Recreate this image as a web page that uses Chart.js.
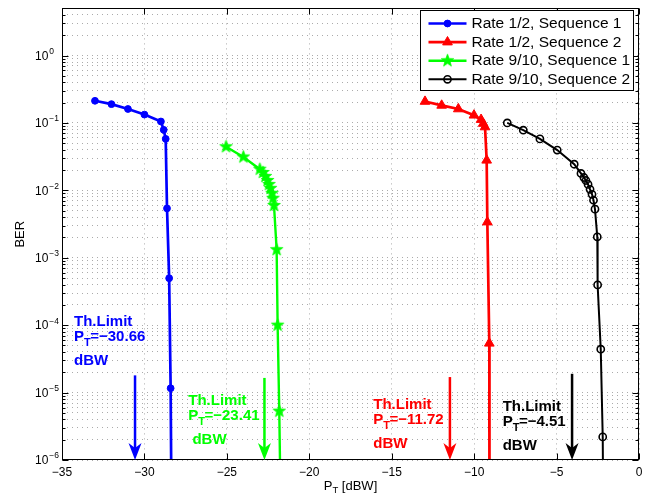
<!DOCTYPE html>
<html>
<head>
<meta charset="utf-8">
<script src="https://cdn.jsdelivr.net/npm/chart.js@4.4.1/dist/chart.umd.min.js"></script>
<style>
html,body{margin:0;padding:0;background:#fff;}
#wrap{width:659px;height:499px;position:relative;}
</style>
</head>
<body>
<div id="wrap"><canvas id="c" width="659" height="499"></canvas></div>
<script>
// ---------- data ----------
const seriesLabels = ['Rate 1/2, Sequence 1', 'Rate 1/2, Sequence 2', 'Rate 9/10, Sequence 1', 'Rate 9/10, Sequence 2'];
const seriesColors = ['#0000ff', '#ff0000', '#00ff00', '#000000'];

const r12s1X = [-33.0, -32.0, -31.0, -30.0, -29.0, -28.83, -28.71, -28.63, -28.5, -28.41, -28.35];
const r12s1Y = [0.213, 0.19, 0.161, 0.133, 0.105, 0.079, 0.058, 0.0054, 4.97e-4, 1.16e-5, 1e-7];

const r12s2X = [-12.98, -11.97, -10.96, -10.01, -9.58, -9.45, -9.34, -9.24, -9.2, -9.08, -9.07];
const r12s2Y = [0.208, 0.182, 0.161, 0.130, 0.112, 0.098, 0.087, 0.0279, 0.00338, 5.38e-5, 1e-7];

const r910s1X = [-25.05, -24.0, -23.0, -22.81, -22.66, -22.53, -22.44, -22.35, -22.26, -22.2, -22.14, -21.98, -21.92, -21.82, -21.72];
const r910s1Y = [0.0444, 0.0313, 0.0206, 0.0184, 0.0161, 0.0140, 0.01225, 0.0107, 0.00904, 0.00762, 0.00596, 0.00132, 1e-4, 5.3e-6, 1e-7];

const r910s2X = [-7.99, -7.02, -6.01, -4.96, -3.93, -3.52, -3.34, -3.22, -3.09, -2.97, -2.85, -2.76, -2.67, -2.53, -2.51, -2.32, -2.2, -2.16];
const r910s2Y = [0.1, 0.078, 0.058, 0.0396, 0.0244, 0.0178, 0.0155, 0.0140, 0.01225, 0.01035, 0.00873, 0.00713, 0.00526, 0.00204, 3.96e-4, 4.4e-5, 2.2e-6, 1e-7];

const xTicks = [-35, -30, -25, -20, -15, -10, -5, 0];
const yDecades = [-6, -5, -4, -3, -2, -1, 0];
const xRange = [-35, 0];
const yRange = [1e-6, 5];

// threshold-limit annotations (order: blue, green, red, black)
const limitColors = ['#0000ff', '#00ff00', '#ff0000', '#000000'];
const limitValues = ['\u221230.66', '\u221223.41', '\u221211.72', '\u22124.51'];
const limitArrowX = [-30.57, -22.72, -11.47, -4.06];
const limitArrowTop = [1.8e-5, 1.65e-5, 1.7e-5, 1.9e-5];
const limitTextX = [-34.27, -27.34, -16.12, -8.27];
const limitTextY = [1.12e-4, 7.6e-6, 6.5e-6, 6.2e-6];
const limitUnit = ['dBW', ' dBW', 'dBW', 'dBW'];

const xTitleMain = 'P', xTitleSub = 'T', xTitleRest = ' [dBW]';
const yTitle = 'BER';

// ---------- helpers ----------
const FONT = '"Liberation Sans", Arial, Helvetica, sans-serif';
function pts(xs, ys) { return xs.map((v, i) => ({x: v, y: ys[i]})); }
function makeStar(color, R, r) {
  const s = Math.ceil(2 * R + 3);
  const c = document.createElement('canvas');
  c.width = s; c.height = s;
  const g = c.getContext('2d');
  g.translate(s / 2, s / 2);
  g.beginPath();
  for (let i = 0; i < 10; i++) {
    const rad = i % 2 ? r : R;
    const a = -Math.PI / 2 + i * Math.PI / 5;
    g.lineTo(rad * Math.cos(a), rad * Math.sin(a));
  }
  g.closePath();
  g.fillStyle = color; g.fill();
  g.strokeStyle = color; g.lineWidth = 0.8; g.stroke();
  return c;
}
const starImg = makeStar(seriesColors[2], 6.6, 2.7);
function sup(n) {
  return (n < 0 ? '\u2212' : '') + Math.abs(n);
}

const datasets = [
  {label: seriesLabels[0], data: pts(r12s1X, r12s1Y), borderColor: seriesColors[0], backgroundColor: seriesColors[0],
   borderWidth: 2.7, pointStyle: 'circle', pointRadius: 3.4, pointBorderWidth: 1},
  {label: seriesLabels[1], data: pts(r12s2X, r12s2Y), borderColor: seriesColors[1], backgroundColor: seriesColors[1],
   borderWidth: 2.7, pointStyle: 'triangle', pointRadius: 5.6, pointBorderWidth: 1},
  {label: seriesLabels[2], data: pts(r910s1X, r910s1Y), borderColor: seriesColors[2], backgroundColor: seriesColors[2],
   borderWidth: 2.4, pointStyle: starImg, pointRadius: 6},
  {label: seriesLabels[3], data: pts(r910s2X, r910s2Y), borderColor: seriesColors[3], backgroundColor: 'rgba(0,0,0,0)',
   borderWidth: 2, pointStyle: 'circle', pointRadius: 3.6, pointBorderWidth: 1.6}
];
datasets.forEach(d => { d.showLine = true; d.tension = 0; d.fill = false; d.pointBorderColor = d.borderColor; d.pointBackgroundColor = d.backgroundColor; });

// ---------- decoration plugin ----------
const decor = {
  id: 'decor',
  afterDatasetsDraw(chart) {
    const ctx = chart.ctx, a = chart.chartArea, xs = chart.scales.x, ys = chart.scales.y;
    const L = Math.round(a.left) + 0.5, T = Math.round(a.top) + 0.5, R = Math.round(a.right) - 0.5, B = Math.round(a.bottom) - 0.5;
    ctx.save();
    // box
    ctx.strokeStyle = '#000'; ctx.lineWidth = 1; ctx.setLineDash([]);
    ctx.strokeRect(L, T, R - L, B - T);
    // inner tick marks
    ctx.beginPath();
    xTicks.forEach(v => {
      const px = Math.round(xs.getPixelForValue(v)) + 0.5;
      ctx.moveTo(px, B); ctx.lineTo(px, B - 6);
      ctx.moveTo(px, T); ctx.lineTo(px, T + 6);
    });
    yDecades.forEach(d => {
      for (let s = 1; s <= 9; s++) {
        const v = s * Math.pow(10, d);
        if (v > yRange[1] + 1e-12) break;
        const py = Math.round(ys.getPixelForValue(v)) + 0.5;
        const len = s === 1 ? 6 : 3;
        ctx.moveTo(L, py); ctx.lineTo(L + len, py);
        ctx.moveTo(R, py); ctx.lineTo(R - len, py);
      }
    });
    ctx.stroke();

    // y tick labels 10^n
    ctx.fillStyle = '#000';
    ctx.textBaseline = 'middle'; ctx.textAlign = 'left';
    yDecades.forEach(d => {
      const py = ys.getPixelForValue(Math.pow(10, d));
      const lx = a.left - 27;
      ctx.font = '12px ' + FONT;
      ctx.fillText('10', lx, py + 1);
      const w = ctx.measureText('10').width;
      ctx.font = '8.5px ' + FONT;
      ctx.fillText(sup(d), lx + w + 1, py - 4);
    });

    // axis titles
    ctx.font = '13px ' + FONT;
    const wP = ctx.measureText(xTitleMain).width;
    ctx.font = '9.5px ' + FONT;
    const wT = ctx.measureText(xTitleSub).width;
    ctx.font = '13px ' + FONT;
    const wR = ctx.measureText(xTitleRest).width;
    const cx = (a.left + a.right) / 2;
    let sx = cx - (wP + wT + wR) / 2;
    const ty = 486;
    ctx.fillText(xTitleMain, sx, ty);
    ctx.font = '9.5px ' + FONT;
    ctx.fillText(xTitleSub, sx + wP, ty + 4);
    ctx.font = '13px ' + FONT;
    ctx.fillText(xTitleRest, sx + wP + wT, ty);

    ctx.save();
    ctx.translate(20.5, (a.top + a.bottom) / 2);
    ctx.rotate(-Math.PI / 2);
    ctx.textAlign = 'center';
    ctx.fillText(yTitle, 0, 0);
    ctx.restore();

    // arrows + threshold texts
    for (let i = 0; i < limitArrowX.length; i++) {
      const col = limitColors[i];
      const px = xs.getPixelForValue(limitArrowX[i]);
      const top = ys.getPixelForValue(limitArrowTop[i]);
      const tip = ys.getPixelForValue(yRange[0]);
      ctx.strokeStyle = col; ctx.fillStyle = col; ctx.lineWidth = 2.5;
      ctx.beginPath(); ctx.moveTo(px, top); ctx.lineTo(px, tip - 10); ctx.stroke();
      ctx.beginPath();
      ctx.moveTo(px, tip);
      ctx.lineTo(px - 6.5, tip - 17);
      ctx.lineTo(px, tip - 12);
      ctx.lineTo(px + 6.5, tip - 17);
      ctx.closePath(); ctx.fill();

      const tx = xs.getPixelForValue(limitTextX[i]);
      const ty0 = ys.getPixelForValue(limitTextY[i]);
      ctx.textAlign = 'left'; ctx.textBaseline = 'middle';
      ctx.font = 'bold 15px ' + FONT;
      ctx.fillText('Th.Limit', tx, ty0);
      ctx.fillText('P', tx, ty0 + 15);
      const pw = ctx.measureText('P').width;
      ctx.font = 'bold 11px ' + FONT;
      ctx.fillText('T', tx + pw, ty0 + 21);
      const tw = ctx.measureText('T').width;
      ctx.font = 'bold 15px ' + FONT;
      ctx.fillText('=' + limitValues[i], tx + pw + tw - 0.5, ty0 + 15);
      ctx.fillText(limitUnit[i], tx, ty0 + 39);
    }

    // legend
    const bx = 420.5, by = 10.5, bw = 213, bh = 80;
    ctx.fillStyle = '#fff'; ctx.fillRect(bx, by, bw, bh);
    ctx.strokeStyle = '#000'; ctx.lineWidth = 1; ctx.strokeRect(bx, by, bw, bh);
    chart.data.datasets.forEach((ds, i) => {
      const ly = by + 13 + i * 18.6;
      ctx.strokeStyle = ds.borderColor; ctx.lineWidth = ds.borderWidth;
      ctx.beginPath(); ctx.moveTo(bx + 8, ly); ctx.lineTo(bx + 46, ly); ctx.stroke();
      ctx.fillStyle = ds.pointBackgroundColor; ctx.strokeStyle = ds.pointBorderColor;
      ctx.lineWidth = ds.pointBorderWidth || 1;
      Chart.helpers.drawPoint(ctx, {pointStyle: ds.pointStyle, radius: ds.pointRadius, borderWidth: ds.pointBorderWidth || 1, rotation: 0}, bx + 27, ly);
      ctx.fillStyle = '#000';
      ctx.font = '15.5px ' + FONT; ctx.textAlign = 'left'; ctx.textBaseline = 'middle';
      ctx.fillText(ds.label, bx + 51, ly + 0.5);
    });
    ctx.restore();
  }
};

new Chart(document.getElementById('c'), {
  type: 'scatter',
  data: {datasets},
  plugins: [decor],
  options: {
    responsive: false,
    animation: false,
    events: [],
    layout: {padding: {left: 0, top: 4, right: 20, bottom: 0}},
    plugins: {legend: {display: false}, tooltip: {enabled: false}, title: {display: false}},
    scales: {
      x: {
        type: 'linear', min: xRange[0], max: xRange[1],
        afterBuildTicks: s => { s.ticks = xTicks.map(v => ({value: v})); },
        afterFit: s => { s.height = 39; },
        ticks: {
          autoSkip: false, maxRotation: 0, padding: 5, color: '#000',
          font: {family: FONT, size: 12},
          callback: v => (v < 0 ? '\u2212' + Math.abs(v) : String(v))
        },
        grid: {color: '#ababab', lineWidth: 1, drawTicks: false},
        border: {display: false, dash: [1, 4]}
      },
      y: {
        type: 'logarithmic', min: yRange[0], max: yRange[1], bounds: 'data',
        afterBuildTicks: s => {
          const t = [];
          yDecades.forEach(d => { for (let k = 1; k <= 9; k++) { const v = k * Math.pow(10, d); if (v <= yRange[1] + 1e-12) t.push({value: v}); } });
          s.ticks = t;
        },
        afterFit: s => { s.width = 62; },
        ticks: {display: false},
        grid: {color: '#ababab', lineWidth: 1, drawTicks: false},
        border: {display: false, dash: [1, 4]}
      }
    }
  }
});
</script>
</body>
</html>
